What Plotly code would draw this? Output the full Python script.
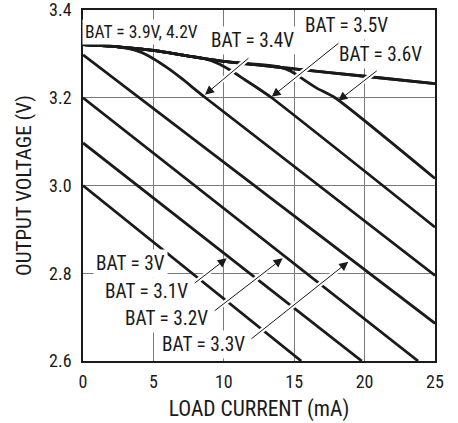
import plotly.graph_objects as go

# ---- data ----
cur_42 = [0, 2.5, 5, 7.5, 10, 15, 20, 25]
v_42 = [3.321, 3.316, 3.308, 3.295, 3.283, 3.266, 3.249, 3.232]
cur_39 = [0, 2.5, 5, 7.5, 10, 15, 20, 25]
v_39 = [3.321, 3.316, 3.308, 3.295, 3.283, 3.266, 3.249, 3.232]
cur_36 = [0, 2.5, 5, 7.5, 10, 14, 14.8, 15.6, 16.6, 17.9, 25]
v_36 = [3.321, 3.316, 3.308, 3.295, 3.283, 3.270, 3.260, 3.243, 3.222, 3.200, 3.016]
cur_35 = [0, 2.5, 5, 7.5, 8.5, 9.5, 10.5, 11.5, 12.5, 13.4, 25]
v_35 = [3.321, 3.316, 3.308, 3.295, 3.290, 3.279, 3.262, 3.241, 3.220, 3.200, 2.905]
cur_34 = [0, 2.5, 4, 5, 6, 7, 8.7, 25]
v_34 = [3.321, 3.316, 3.305, 3.289, 3.268, 3.244, 3.200, 2.795]
cur_33 = [0, 25]
v_33 = [3.298, 2.686]
cur_32 = [0, 23.8]
v_32 = [3.200, 2.600]
cur_31 = [0, 19.8]
v_31 = [3.097, 2.600]
cur_30 = [0, 15.5]
v_30 = [3.000, 2.600]

series = [(cur_42, v_42), (cur_39, v_39), (cur_36, v_36), (cur_35, v_35),
          (cur_34, v_34), (cur_33, v_33), (cur_32, v_32), (cur_31, v_31),
          (cur_30, v_30)]

x_ticks = [0, 5, 10, 15, 20, 25]
x_tick_text = ["0", "5", "10", "15", "20", "25"]
y_ticks = [2.6, 2.8, 3.0, 3.2, 3.4]
y_tick_text = ["2.6", "2.8", "3.0", "3.2", "3.4"]

# label text, label centre, arrow tip, arrow tail (data units), font size
labels = [
    ("BAT = 3.9V, 4.2V", 4.15, 3.350, None, None, None, None, 17.5),
    ("BAT = 3.4V", 12.07, 3.330, 8.66, 3.207, 11.86, 3.293, 19.3),
    ("BAT = 3.5V", 18.71, 3.364, 13.40, 3.202, 18.25, 3.327, 19.3),
    ("BAT = 3.6V", 21.13, 3.298, 18.13, 3.193, 20.97, 3.264, 19.3),
    ("BAT = 3V", 3.37, 2.822, None, None, None, None, 19.3),
    ("BAT = 3.1V", 4.52, 2.758, 10.21, 2.834, 7.83, 2.775, 19.3),
    ("BAT = 3.2V", 5.94, 2.697, 14.18, 2.834, 9.25, 2.712, 19.3),
    ("BAT = 3.3V", 8.59, 2.637, 18.84, 2.826, 11.86, 2.648, 19.3),
]

FONT = "Roboto Condensed, Liberation Sans, Arial, sans-serif"
INK = "#1a1a1a"

fig = go.Figure()
for xs, ys in series:
    fig.add_trace(go.Scatter(x=xs, y=ys, mode="lines",
                             line=dict(color=INK, width=2.8,
                                       shape="spline", smoothing=0.6),
                             hoverinfo="skip", showlegend=False))

annotations = []
for text, lx, ly, tx, ty, ax, ay, fs in labels:
    annotations.append(dict(x=lx, y=ly, xref="x", yref="y", text=text,
                            showarrow=False, bgcolor="white", borderpad=2,
                            font=dict(family=FONT, size=fs, color=INK)))
for text, lx, ly, tx, ty, ax, ay, fs in labels:
    if tx is None:
        continue
    annotations.append(dict(x=tx, y=ty, ax=ax, ay=ay, xref="x", yref="y",
                            axref="x", ayref="y", text="", showarrow=True,
                            arrowhead=0, arrowwidth=5, arrowcolor="white",
                            standoff=9))
for text, lx, ly, tx, ty, ax, ay, fs in labels:
    if tx is None:
        continue
    annotations.append(dict(x=tx, y=ty, ax=ax, ay=ay, xref="x", yref="y",
                            axref="x", ayref="y", text="", showarrow=True,
                            arrowhead=2, arrowsize=1.8, arrowwidth=1,
                            arrowcolor=INK))

fig.update_layout(
    template="none",
    width=458, height=423,
    margin=dict(l=83, r=23, t=10, b=62),
    paper_bgcolor="white", plot_bgcolor="white",
    font=dict(family=FONT, size=18, color=INK),
    annotations=annotations,
    xaxis=dict(range=[0, 25], tickvals=x_ticks, ticktext=x_tick_text,
               showgrid=True, gridcolor="#7a7a7a", gridwidth=1,
               zeroline=False, showline=True, linecolor=INK,
               linewidth=1.6, mirror=True, ticks="", ticklabelstandoff=4,
               automargin=False, ticklabeloverflow="allow",
               tickfont=dict(family=FONT, size=18, color=INK),
               title=dict(text="LOAD CURRENT (mA)", standoff=10,
                          font=dict(family=FONT, size=21.5, color=INK))),
    yaxis=dict(range=[2.6, 3.4], tickvals=y_ticks, ticktext=y_tick_text,
               showgrid=True, gridcolor="#7a7a7a", gridwidth=1,
               zeroline=False, showline=True, linecolor=INK,
               linewidth=1.6, mirror=True, ticks="", ticklabelstandoff=6,
               automargin=False, ticklabeloverflow="allow",
               tickfont=dict(family=FONT, size=18, color=INK),
               title=dict(text="OUTPUT VOLTAGE (V)", standoff=12,
                          font=dict(family=FONT, size=21, color=INK))),
)

fig.write_html("out.html", config={"displayModeBar": False},
               post_script="document.body.style.margin='0';document.body.style.padding='0';")
